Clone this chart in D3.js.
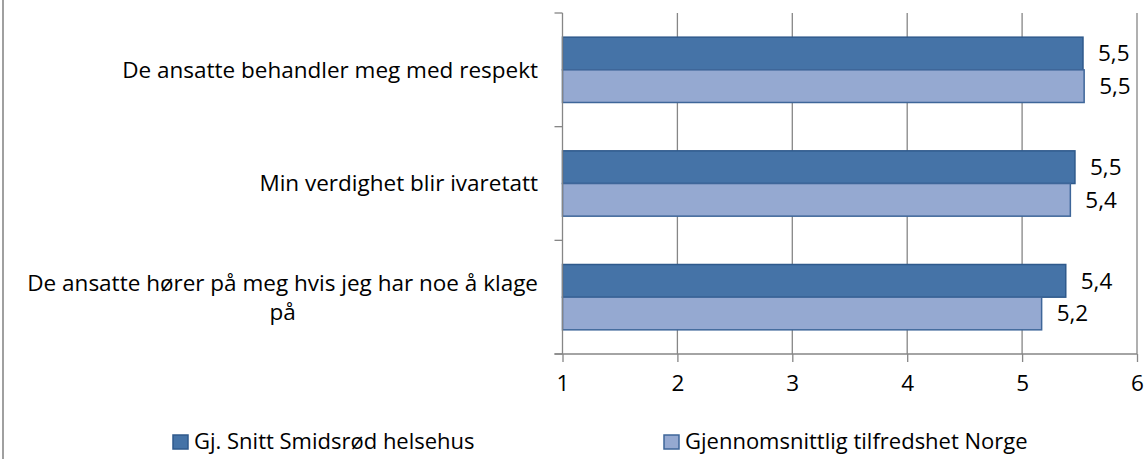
<!DOCTYPE html>
<html>
<head>
<meta charset="utf-8">
<script src="https://cdn.jsdelivr.net/npm/d3@7"></script>
<style>
  body { margin: 0; background: #fff; }
  svg text { font-family: "Open Sans", "Noto Sans", sans-serif; fill: #000; }
</style>
</head>
<body>
<script>
const categories = [
    ['De ansatte behandler meg med respekt'],
    ['Min verdighet blir ivaretatt'],
    ['De ansatte hører på meg hvis jeg har noe å klage', 'på']
];
const seriesNames = ['Gj. Snitt Smidsrød helsehus', 'Gjennomsnittlig tilfredshet Norge'];
const smidsrod = [5.53, 5.46, 5.38];
const norge = [5.54, 5.42, 5.17];
const xTicks = [1, 2, 3, 4, 5, 6];

const width = 1144, height = 459;
const margin = { top: 13, left: 562.5, right: 7, bottom: 105 };
const fills = ['#4573a7', '#95a9d1'];
const strokes = ['#2f5a8c', '#3e6699'];
const fontSize = '22.5px';

const svg = d3.select('body').append('svg')
    .attr('width', width)
    .attr('height', height);

// left chart border
svg.append('line')
    .attr('x1', 3).attr('x2', 3).attr('y1', 0).attr('y2', height)
    .attr('stroke', '#a0a0a0').attr('stroke-width', 2);

const x = d3.scaleLinear().domain([1, 6]).range([margin.left, width - margin.right]);
const y = d3.scaleBand().domain(d3.range(categories.length))
    .range([margin.top, height - margin.bottom]);
const inner = d3.scaleBand().domain([0, 1]).range([0, y.bandwidth()]).paddingOuter(0.74);

// gridlines
svg.append('g').selectAll('line')
    .data(xTicks.slice(1))
    .join('line')
    .attr('x1', d => x(d)).attr('x2', d => x(d))
    .attr('y1', margin.top).attr('y2', height - margin.bottom)
    .attr('stroke', '#868686').attr('stroke-width', 1.3);

const series = [smidsrod, norge];
const bars = [];
series.forEach((vals, s) => vals.forEach((v, i) => bars.push({ s, i, v })));

svg.append('g').selectAll('rect')
    .data(bars)
    .join('rect')
    .attr('x', x(1))
    .attr('y', d => y(d.i) + inner(d.s))
    .attr('width', d => x(d.v) - x(1))
    .attr('height', inner.bandwidth())
    .attr('fill', d => fills[d.s])
    .attr('stroke', d => strokes[d.s])
    .attr('stroke-width', 1.5);

svg.append('g').selectAll('text')
    .data(bars)
    .join('text')
    .attr('x', d => x(d.v) + 15)
    .attr('y', d => y(d.i) + inner(d.s) + inner.bandwidth() / 2)
    .attr('dy', '0.35em')
    .style('font-size', fontSize)
    .text(d => d3.format('.1f')(d.v).replace('.', ','));

// y axis
const yAxis = svg.append('g').attr('transform', `translate(${x(1)},0)`);
yAxis.append('line')
    .attr('y1', margin.top).attr('y2', height - margin.bottom)
    .attr('stroke', '#868686').attr('stroke-width', 1.3);
yAxis.selectAll('line.tick')
    .data(d3.range(categories.length + 1))
    .join('line').attr('class', 'tick')
    .attr('x1', -8).attr('x2', 0)
    .attr('y1', d => margin.top + d * y.step())
    .attr('y2', d => margin.top + d * y.step())
    .attr('stroke', '#868686').attr('stroke-width', 1.3);

// x axis
const xAxis = svg.append('g')
    .attr('transform', `translate(0,${height - margin.bottom})`)
    .call(d3.axisBottom(x).tickValues(xTicks).tickFormat(d3.format('d'))
        .tickSize(8).tickPadding(13).tickSizeOuter(0));
xAxis.select('.domain').attr('stroke', '#868686').attr('stroke-width', 1.3)
    .attr('d', `M${x(1) - 8},0H${x(6)}`);
xAxis.selectAll('.tick line').attr('stroke', '#868686').attr('stroke-width', 1.3);
xAxis.selectAll('.tick text')
    .style('font-size', fontSize)
    .style('font-family', '"Open Sans", "Noto Sans", sans-serif');

// category labels
const labelRight = 538;
categories.forEach((lines, i) => {
    const cy = y(i) + y.bandwidth() / 2;
    const first = svg.append('text')
        .attr('x', labelRight)
        .attr('y', cy - (lines.length - 1) / 2 * 29)
        .attr('dy', '0.35em')
        .attr('text-anchor', 'end')
        .style('font-size', fontSize)
        .text(lines[0]);
    const w = first.node().getComputedTextLength();
    lines.slice(1).forEach((line, j) => {
        svg.append('text')
            .attr('x', labelRight - w / 2)
            .attr('y', cy - (lines.length - 1) / 2 * 29 + (j + 1) * 29)
            .attr('dy', '0.35em')
            .attr('text-anchor', 'middle')
            .style('font-size', fontSize)
            .text(line);
    });
});

// legend
const legendX = [173, 664];
const legend = svg.append('g').selectAll('g')
    .data(seriesNames)
    .join('g')
    .attr('transform', (d, i) => `translate(${legendX[i]},442)`);
legend.append('rect')
    .attr('x', 0).attr('y', -7).attr('width', 15).attr('height', 14)
    .attr('fill', (d, i) => fills[i])
    .attr('stroke', (d, i) => strokes[i]).attr('stroke-width', 1.5);
legend.append('text')
    .attr('x', 21).attr('dy', '0.32em')
    .style('font-size', '22px')
    .text(d => d);
</script>
</body>
</html>
